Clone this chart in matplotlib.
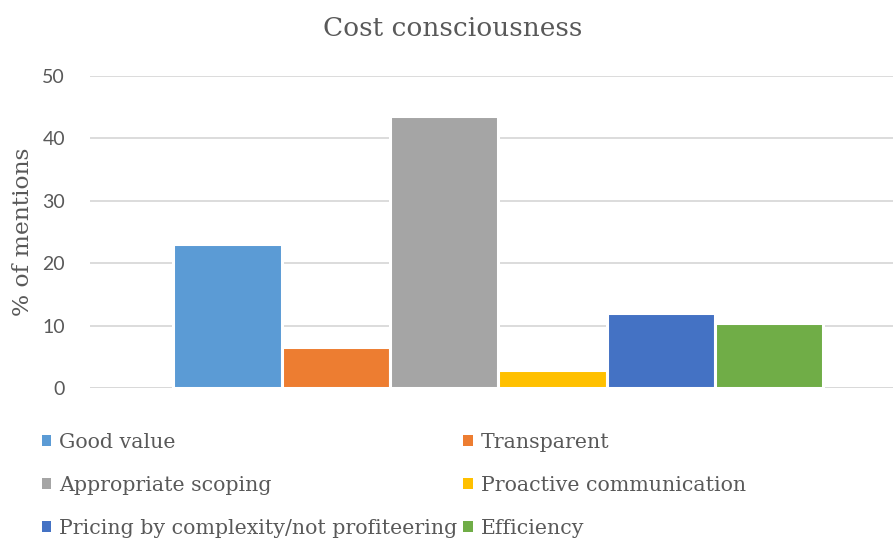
import matplotlib
matplotlib.use("Agg")
import matplotlib.pyplot as plt
from matplotlib.patches import Patch

# data
categories = ["Good value", "Transparent", "Appropriate scoping",
              "Proactive communication", "Pricing by complexity/not profiteering",
              "Efficiency"]
values = [23.0, 6.5, 43.6, 2.9, 12.0, 10.4]
colors = ["#5B9BD5", "#ED7D31", "#A5A5A5", "#FFC000", "#4472C4", "#70AD47"]
yticks = [0, 10, 20, 30, 40, 50]

W, H = 893, 540
fig = plt.figure(figsize=(W / 100, H / 100), dpi=100)

# axes placed in pixel terms (left 90px, y=0 at 388px, y=50 at 76px)
ax = fig.add_axes([90 / W, (H - 388) / H, 1 - 90 / W, (388 - 76) / H])

x = list(range(len(values)))
ax.bar(x, values, width=1.0, color=colors, edgecolor="white", linewidth=2.2, zorder=3)

ax.set_xlim(-1.27, 6.145)
ax.set_ylim(0, 50)
ax.set_yticks(yticks)
ax.set_xticks([])
ax.grid(axis="y", color="#D9D9D9", linewidth=1.3, zorder=0)
ax.axhline(0, color="#D9D9D9", linewidth=1.3, zorder=1)
for s in ax.spines.values():
    s.set_visible(False)
ax.tick_params(axis="y", length=0, pad=18, labelsize=14, labelcolor="#595959")
for t in ax.get_yticklabels():
    t.set_fontfamily("Lato")

ax.set_ylabel("% of mentions", family="DejaVu Serif", fontsize=16.8,
              color="#595959", labelpad=6)

fig.text(453 / W, 1 - 28 / H, "Cost consciousness", family="DejaVu Serif",
         fontsize=19, color="#595959", ha="center", va="center")

# legend filled row by row, as in the original
order = [0, 2, 4, 1, 3, 5]
handles = [Patch(facecolor=colors[i], edgecolor="none") for i in order]
labels = [categories[i] for i in order]
fig.legend(handles, labels, ncol=2, loc="upper left",
           bbox_to_anchor=(23 / W, 1 - 414 / H), frameon=False,
           prop={"family": "DejaVu Serif", "size": 14.8},
           labelcolor="#595959", handlelength=0.45, handleheight=0.45,
           handletextpad=0.4, labelspacing=1.18, columnspacing=0.3)

fig.savefig("out.png", dpi=100)
